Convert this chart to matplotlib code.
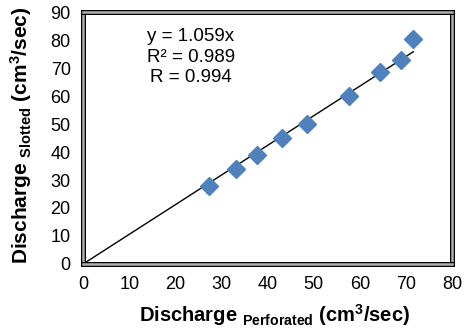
import matplotlib.pyplot as plt
import matplotlib.patheffects as pe
import numpy as np

plt.rcParams['font.family'] = 'Liberation Sans'
plt.rcParams['mathtext.fontset'] = 'custom'
plt.rcParams['mathtext.rm'] = 'Liberation Sans'
plt.rcParams['mathtext.bf'] = 'Liberation Sans:bold'

# measured discharges (cm3/sec)
q_perforated = [27.3, 33.2, 37.7, 43.2, 48.6, 57.7, 64.4, 69.0, 71.6]
q_slotted = [27.9, 33.9, 38.9, 45.0, 50.0, 60.0, 68.6, 72.9, 80.4]
slope = 1.059
fit_text = ["y = 1.059x", "R² = 0.989", "R = 0.994"]

fig = plt.figure(figsize=(4.67, 3.35), dpi=100)
ax = fig.add_axes([0.178, 0.212, 0.79, 0.752])

x_fit = np.array([0, max(q_perforated)])
ax.plot(x_fit, slope * x_fit, color='black', linewidth=1)
ax.plot(q_perforated, q_slotted, linestyle='none', marker='D', markersize=9,
        color='#4F81BD', markeredgecolor='#4F81BD')

ax.text(23.4, 73.9, "\n".join(fit_text), ha='center', va='center', fontsize=13.5,
        linespacing=1.25)

ax.set_xlim(0, 80)
ax.set_ylim(0, 90)
ax.set_xticks(range(0, 81, 10))
ax.set_yticks(range(0, 91, 10))
ax.tick_params(length=0, labelsize=13, pad=9)

for sp in ax.spines.values():
    sp.set_color('#b0b0b0')
    sp.set_linewidth(1.8)
    sp.set_path_effects([pe.Stroke(linewidth=3.6, foreground='black'), pe.Normal()])

ax.set_xlabel(r'$\mathbf{Discharge}$ $_{\mathbf{Perforated}}$ $\mathbf{(cm^{3}/sec)}$',
              fontsize=14.5)
ax.set_ylabel(r'$\mathbf{Discharge}$ $_{\mathbf{Slotted}}$ $\mathbf{(cm^{3}/sec)}$',
              fontsize=15, va='center', ha='center')
ax.xaxis.set_label_coords(0.52, -0.15)
ax.yaxis.set_label_coords(-0.167, 0.51)

fig.savefig('out.png', dpi=100)
